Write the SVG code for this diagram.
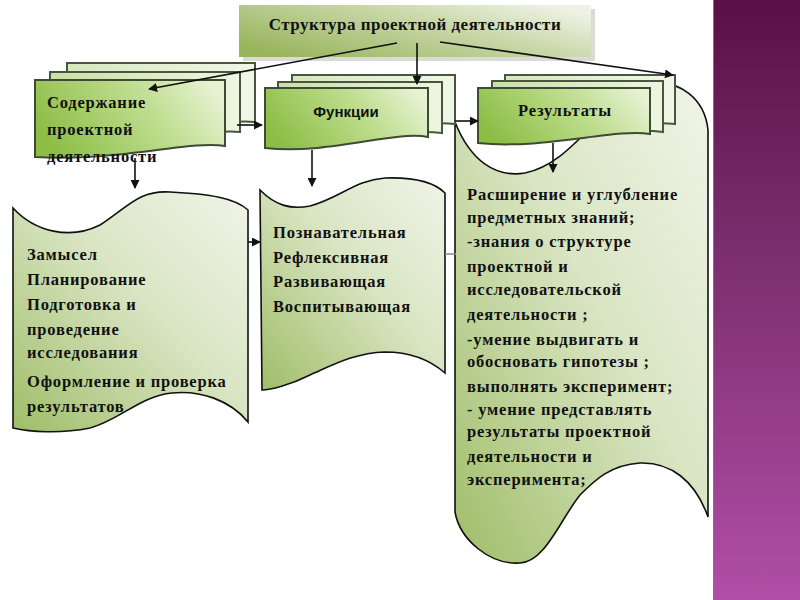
<svg xmlns="http://www.w3.org/2000/svg" width="800" height="600" viewBox="0 0 800 600">
<style>
.t{font-family:"Liberation Serif","Times New Roman",serif;font-weight:bold;font-size:16.5px;letter-spacing:0.8px;fill:#111}
.s{font-family:"Liberation Sans",Arial,sans-serif;font-weight:bold;font-size:15px;fill:#111}
.scroll{fill:url(#gScroll);stroke:#111;stroke-width:1.6}
.front{fill:url(#gFront);stroke:#3f4a33;stroke-width:2}
.mid{fill:url(#gMid);stroke:#4a5540;stroke-width:2}
.back{fill:url(#gBack);stroke:#4a5540;stroke-width:2}
.ln{stroke:#111;stroke-width:1.6;fill:none}
</style>
<defs>
<linearGradient id="gScroll" x1="0" y1="1" x2="1" y2="0">
<stop offset="0" stop-color="#9fbd68"/>
<stop offset="0.55" stop-color="#d9e5c3"/>
<stop offset="1" stop-color="#f0f4e8"/>
</linearGradient>
<linearGradient id="gFront" x1="0" y1="0.6" x2="1" y2="0.3">
<stop offset="0" stop-color="#8cbd45"/>
<stop offset="0.6" stop-color="#bedd8e"/>
<stop offset="1" stop-color="#e6f2d2"/>
</linearGradient>
<linearGradient id="gMid" x1="0" y1="0" x2="1" y2="0">
<stop offset="0" stop-color="#c9e0a6"/>
<stop offset="1" stop-color="#eef6e2"/>
</linearGradient>
<linearGradient id="gBack" x1="0" y1="0" x2="1" y2="0">
<stop offset="0" stop-color="#d6e8bd"/>
<stop offset="1" stop-color="#f1f7e8"/>
</linearGradient>
<linearGradient id="gTitle" x1="0" y1="0.8" x2="1" y2="0.2">
<stop offset="0" stop-color="#98b45c"/>
<stop offset="0.6" stop-color="#c8d7a8"/>
<stop offset="1" stop-color="#eef2e4"/>
</linearGradient>
<linearGradient id="gPurple" x1="0" y1="0" x2="0" y2="1">
<stop offset="0" stop-color="#5a1046"/>
<stop offset="0.4" stop-color="#7a2d6c"/>
<stop offset="1" stop-color="#b14ea7"/>
</linearGradient>
<marker id="arr" viewBox="0 0 10 10" refX="9" refY="5" markerWidth="9" markerHeight="9" markerUnits="userSpaceOnUse" orient="auto">
<path d="M0 0 L10 5 L0 10 Z" fill="#111"/>
</marker>
</defs>

<rect x="0" y="0" width="800" height="600" fill="#ffffff"/>
<rect x="713" y="0" width="87" height="600" fill="url(#gPurple)"/>
<line x1="713.5" y1="0" x2="713.5" y2="600" stroke="#a0609a" stroke-width="1"/>

<g id="scroll-content">
<path class="scroll" d="M13 208 C35 232 70 240 100 225 C130 205 140 190 170 192 C210 194 235 198 248 210 V422 C230 400 200 390 172 393 C140 396 120 420 90 428 C60 434 30 432 13 428 Z"/>
<text class="t" x="27" y="260">Замысел</text>
<text class="t" x="27" y="285">Планирование</text>
<text class="t" x="27" y="310">Подготовка и</text>
<text class="t" x="27" y="335">проведение</text>
<text class="t" x="27" y="358">исследования</text>
<text class="t" x="27" y="387">Оформление и проверка</text>
<text class="t" x="27" y="412">результатов</text>
</g>

<g id="scroll-functions">
<path class="scroll" d="M260 190 C275 205 290 210 310 206 C340 198 355 180 385 178 C415 177 435 183 445 193 V373 C430 360 410 352 385 352 C355 353 335 364 310 375 C290 385 270 390 262 390 Z"/>
<text class="t" x="273" y="238">Познавательная</text>
<text class="t" x="273" y="263">Рефлексивная</text>
<text class="t" x="273" y="287">Развивающая</text>
<text class="t" x="273" y="312">Воспитывающая</text>
</g>

<g id="scroll-results">
<path class="scroll" d="M455 122 C470 160 495 178 525 173 C575 163 600 100 650 85 C680 78 705 100 708 130 V517 C695 480 670 462 640 463 C610 465 595 480 580 495 C560 520 545 562 520 563 C490 565 460 540 455 512 Z"/>
<text class="t" x="467" y="200">Расширение и углубление</text>
<text class="t" x="467" y="223">предметных знаний;</text>
<text class="t" x="467" y="247">-знания о структуре</text>
<text class="t" x="467" y="272">проектной и</text>
<text class="t" x="467" y="295">исследовательской</text>
<text class="t" x="467" y="320">деятельности ;</text>
<text class="t" x="467" y="345">-умение выдвигать и</text>
<text class="t" x="467" y="367">обосновать гипотезы ;</text>
<text class="t" x="467" y="392">выполнять эксперимент;</text>
<text class="t" x="467" y="415">- умение представлять</text>
<text class="t" x="467" y="437">результаты проектной</text>
<text class="t" x="467" y="462">деятельности и</text>
<text class="t" x="467" y="485">эксперимента;</text>
</g>

<g id="stack-content">
<path class="back" d="M67 63 H255 V122 C220 118 150 135 67 130 Z"/>
<path class="mid" d="M50 72 H240 V132 C205 128 135 146 50 140 Z"/>
<path class="front" d="M35 80 H225 V146 C190 140 120 162 35 157 Z"/>
<text class="t" x="47" y="108">Содержание</text>
<text class="t" x="47" y="135">проектной</text>
<text class="t" x="47" y="162">деятельности</text>
</g>

<g id="stack-functions">
<path class="back" d="M292 75 H455 V124 C420 120 360 132 292 128 Z"/>
<path class="mid" d="M278 82 H442 V133 C405 128 345 142 278 138 Z"/>
<path class="front" d="M265 88 H428 V137 C395 130 330 155 265 148 Z"/>
<text class="s" x="346" y="117" text-anchor="middle">Функции</text>
</g>

<g id="stack-results">
<path class="back" d="M505 75 H675 V124 C640 120 575 132 505 128 Z"/>
<path class="mid" d="M492 81 H663 V132 C625 127 560 140 492 136 Z"/>
<path class="front" d="M478 88 H650 V134 C615 128 545 150 478 143 Z"/>
<text class="t" x="565" y="116" text-anchor="middle">Результаты</text>
</g>

<g id="title">
<rect x="243" y="9" width="352" height="52" fill="#d0d3cc" opacity="0.8"/>
<rect x="239" y="5" width="352" height="52" fill="url(#gTitle)"/>
<text class="t" x="415" y="30" text-anchor="middle" style="font-size:17px;letter-spacing:0.5px">Структура проектной деятельности</text>
</g>

<g id="connectors">
<line class="ln" x1="397" y1="43" x2="149" y2="89" marker-end="url(#arr)"/>
<line class="ln" x1="417" y1="43" x2="417" y2="84" marker-end="url(#arr)"/>
<line class="ln" x1="440" y1="42" x2="673" y2="75" marker-end="url(#arr)"/>
<line class="ln" x1="237" y1="125" x2="262" y2="125" marker-end="url(#arr)"/>
<line class="ln" x1="455" y1="121" x2="478" y2="121" marker-end="url(#arr)"/>
<line class="ln" x1="135" y1="158" x2="135" y2="188" marker-end="url(#arr)"/>
<line class="ln" x1="312" y1="150" x2="312" y2="186" marker-end="url(#arr)"/>
<line class="ln" x1="553" y1="143" x2="553" y2="172" marker-end="url(#arr)"/>
<line class="ln" x1="248" y1="242" x2="260" y2="242" marker-end="url(#arr)"/>
<line x1="445" y1="254" x2="456" y2="254" stroke="#888" stroke-width="1.5"/>
</g>
</svg>
